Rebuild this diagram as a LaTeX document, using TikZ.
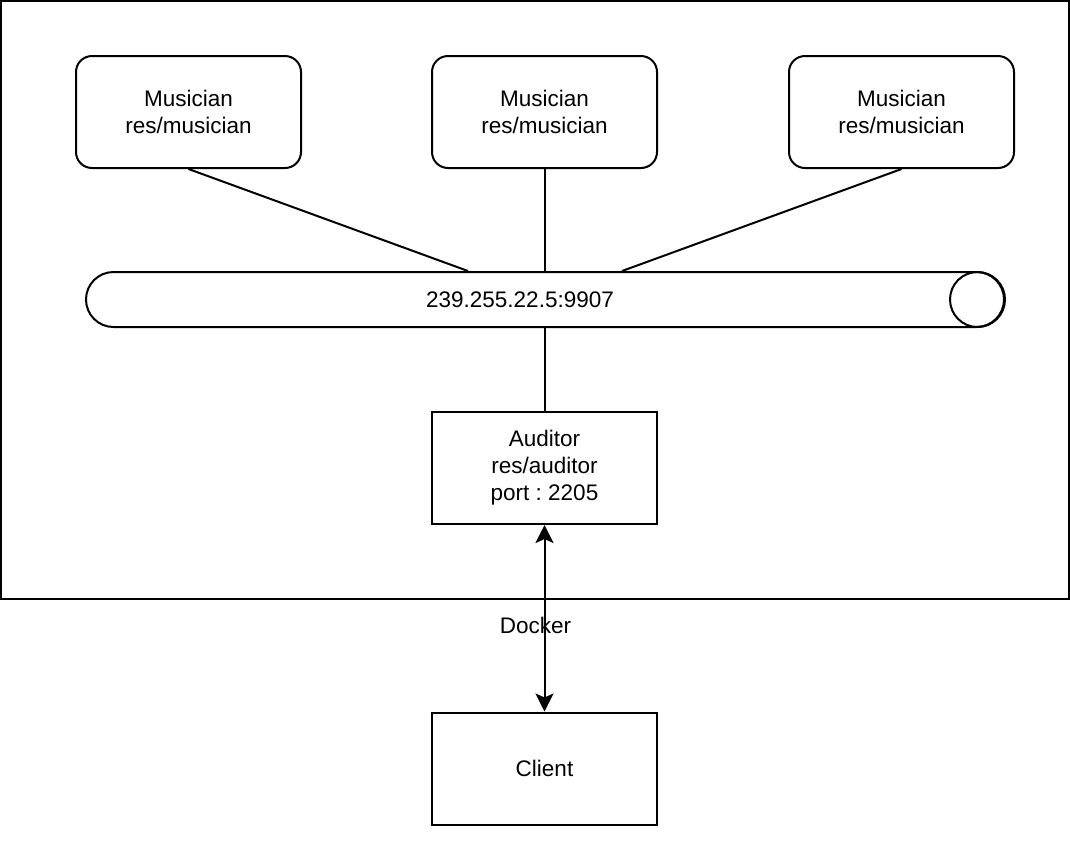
\documentclass[tikz,border=0pt]{standalone}
\usepackage{fontspec}
\setmainfont{Liberation Sans}
\frenchspacing
\usetikzlibrary{shapes.misc,positioning,calc,arrows.meta}

\begin{document}
\begin{tikzpicture}[x=0.5pt, y=-0.5pt, line width=1pt,
    every node/.style={font=\fontsize{11.25}{13.5}\selectfont, align=center},
    musicianbox/.style={draw, rounded corners=8pt, minimum width=112.5pt, minimum height=56pt},
    plainbox/.style={draw, minimum width=112.5pt, minimum height=56pt},
    busline/.style={draw, rounded rectangle, minimum width=459pt, minimum height=27.5pt, inner sep=0pt}]
    \useasboundingbox (0,0) rectangle (1070,843);

    % Docker host
    \draw (1,1) rectangle (1069,599);

    % Musicians
    \node[musicianbox] (mus1) at (188.5,112) {Musician\\res/musician};
    \node[musicianbox] (mus2) at (544.5,112) {Musician\\res/musician};
    \node[musicianbox] (mus3) at (901.5,112) {Musician\\res/musician};

    % Multicast bus
    \node[busline, label={[xshift=-12.5pt]center:239.255.22.5:9907}] (bus) at (545,299.5) {};
    \draw ($(bus.east)+(-27.5,0)$) circle (13.75pt);
    \coordinate (busL) at ($(bus.north)+(-77,0)$);
    \coordinate (busR) at ($(bus.north)+(77,0)$);

    \draw (mus1.south) -- (busL);
    \draw (mus2.south) -- (mus2.south |- bus.north);
    \draw (mus3.south) -- (busR);

    % Auditor
    \node[plainbox] (auditor) at (544.5,468) {Auditor\\res/auditor\\port : 2205};
    \draw (auditor.north |- bus.south) -- (auditor.north);

    % Client
    \node[plainbox] (client) at (544.5,768.5) {Client};
    \draw[{Stealth[length=9pt,width=9pt,inset=2pt]}-{Stealth[length=9pt,width=9pt,inset=2pt]}]
        (auditor.south) -- (client.north) node[midway, xshift=-4.5pt, yshift=-3.5pt] {Docker};
\end{tikzpicture}
\end{document}
